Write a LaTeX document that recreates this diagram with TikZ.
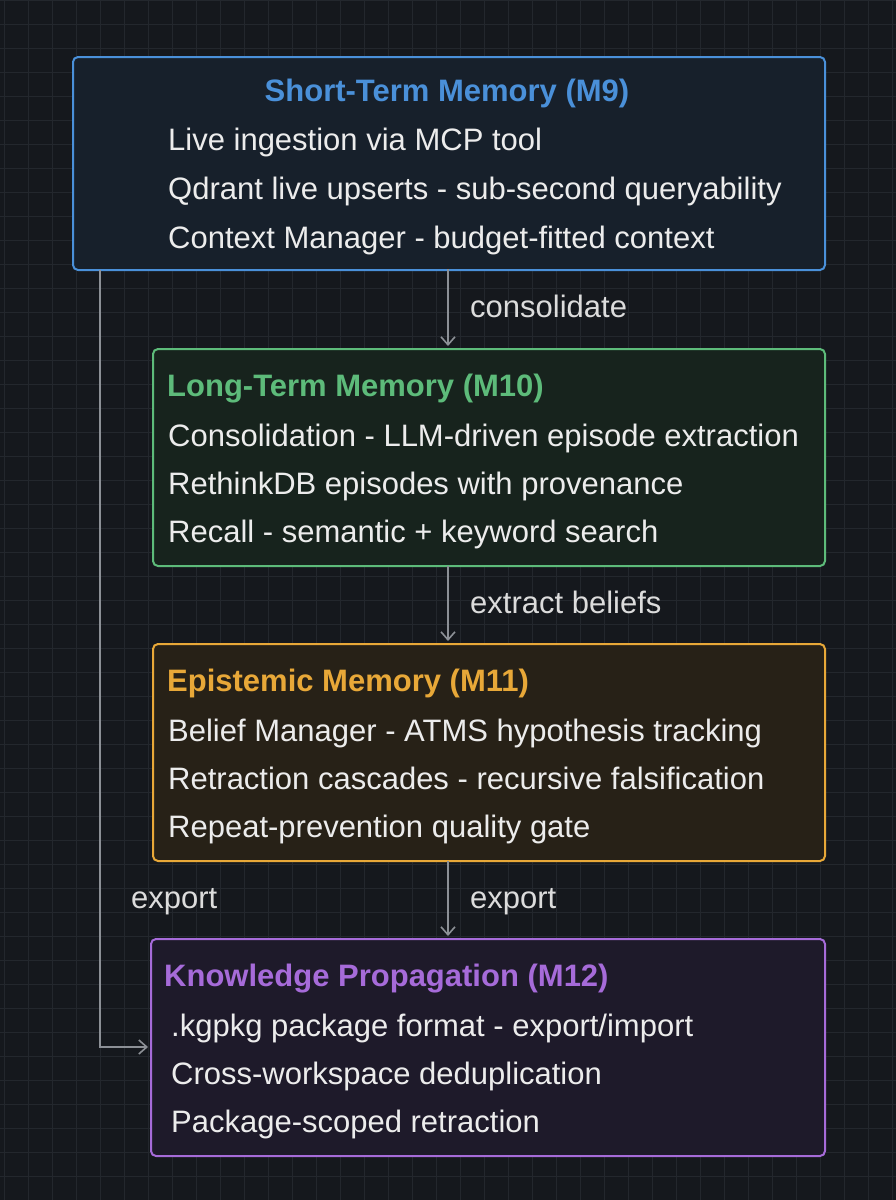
\documentclass[tikz,border=0pt]{standalone}
\usepackage{fontspec}
\setmainfont{Liberation Sans}
\usetikzlibrary{arrows.meta}
\definecolor{bg}{HTML}{15181D}
\definecolor{gridc}{HTML}{23272D}
\definecolor{cblue}{HTML}{4A90D9}
\definecolor{cgreen}{HTML}{5DBB7A}
\definecolor{corange}{HTML}{E8A838}
\definecolor{cpurple}{HTML}{A66BD9}
\definecolor{fblue}{HTML}{17202B}
\definecolor{fgreen}{HTML}{17231D}
\definecolor{forange}{HTML}{272117}
\definecolor{fpurple}{HTML}{1E1A2A}
\definecolor{txt}{HTML}{ECECEC}
\definecolor{conn}{HTML}{8C9096}
\begin{document}
\begin{tikzpicture}[x=1pt,y=-1pt,
  box/.style={draw=#1,line width=2pt,rounded corners=5pt},
  base/.style={anchor=west,inner sep=0,text height=24pt,text depth=3pt},
  ttl/.style={base,font=\fontsize{31}{34}\selectfont\bfseries,text=#1},
  ln/.style={base,font=\fontsize{31}{34}\selectfont,text=txt},
  lbl/.style={base,font=\fontsize{31}{34}\selectfont,text=txt!85!gray},
  arr/.style={draw=conn,line width=1.6pt,-{Straight Barb[length=8pt,width=14pt]}}]
\fill[bg] (0,0) rectangle (896,1200);
\useasboundingbox (0,0) rectangle (896,1200);
\foreach \i in {0,24,...,1200} {\draw[gridc,line width=0.8pt] (0,\i) -- (896,\i);}
\foreach \i in {4,28,...,896} {\draw[gridc,line width=0.8pt] (\i,0) -- (\i,1200);}
% boxes
\node[box=cblue,fill=fblue,minimum width=752,minimum height=213,anchor=north west] (stm) at (72,56) {};
\node[box=cgreen,fill=fgreen,minimum width=672,minimum height=217,anchor=north west] (ltm) at (152,348) {};
\node[box=corange,fill=forange,minimum width=672,minimum height=217,anchor=north west] (em) at (152,643) {};
\node[box=cpurple,fill=fpurple,minimum width=674,minimum height=217,anchor=north west] (kp) at (150,938) {};
% texts
\node[ttl=cblue,anchor=center] (t1) at (447,91) {Short-Term Memory (M9)};
\node[ln] (a1) at (168,140) {Live ingestion via MCP tool};
\node[ln] (a2) at (168,189) {Qdrant live upserts - sub-second queryability};
\node[ln] (a3) at (168,238) {Context Manager - budget-fitted context};
\node[ttl=cgreen] (t2) at (167,386) {Long-Term Memory (M10)};
\node[ln] (b1) at (168,436) {Consolidation - LLM-driven episode extraction};
\node[ln] (b2) at (168,484) {RethinkDB episodes with provenance};
\node[ln] (b3) at (168,532) {Recall - semantic + keyword search};
\node[ttl=corange] (t3) at (167,681) {Epistemic Memory (M11)};
\node[ln] (c1) at (168,731) {Belief Manager - ATMS hypothesis tracking};
\node[ln] (c2) at (168,779) {Retraction cascades - recursive falsification};
\node[ln] (c3) at (168,827) {Repeat-prevention quality gate};
\node[ttl=cpurple] (t4) at (164,976) {Knowledge Propagation (M12)};
\node[ln] (d1) at (171,1026) {.kgpkg package format - export/import};
\node[ln] (d2) at (171,1074) {Cross-workspace deduplication};
\node[ln] (d3) at (171,1122) {Package-scoped retraction};
% connectors
\coordinate (s1) at (448,269); \coordinate (e1) at (448,346);
\coordinate (s2) at (448,566); \coordinate (e2) at (448,641);
\coordinate (s3) at (448,861); \coordinate (e3) at (448,936);
\draw[arr] (s1) -- (e1);
\draw[arr] (s2) -- (e2);
\draw[arr] (s3) -- (e3);
\coordinate (l0) at (100,270); \coordinate (l1) at (100,1047); \coordinate (l2) at (148,1047);
\draw[arr] (l0) -- (l1) -- (l2);
\node[lbl] (n1) at (470,307) {consolidate};
\node[lbl] (n2) at (470,603) {extract beliefs};
\node[lbl] (n3) at (470,898) {export};
\node[lbl] (n4) at (131,898) {export};
\end{tikzpicture}
\end{document}
